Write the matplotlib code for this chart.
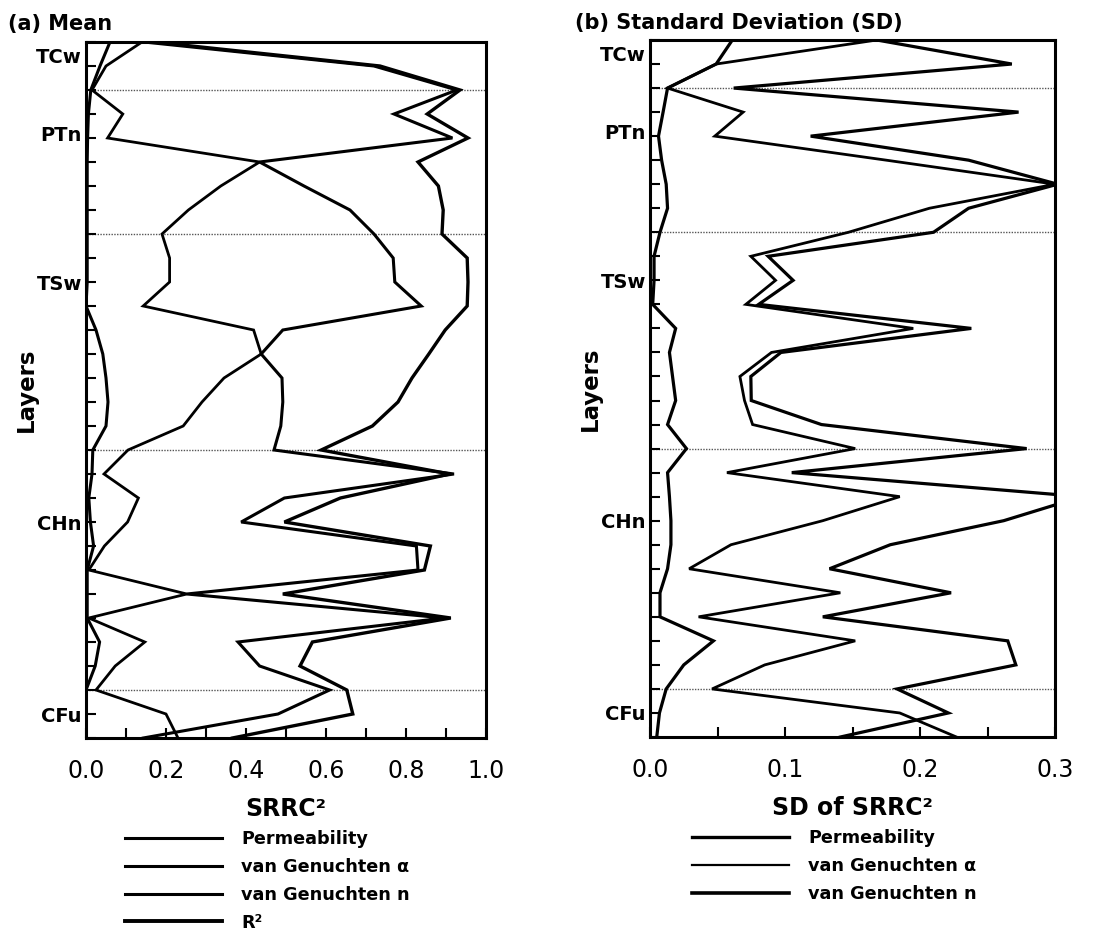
"""Mean and SD of SRRC^2 per layer, two panels side by side."""

import matplotlib.pyplot as plt
import numpy as np
from matplotlib.lines import Line2D
from matplotlib.ticker import FixedLocator, MultipleLocator

# layer number, top (1) to bottom (30)
layers = np.arange(1, 31)
unit_names = ["TCw", "PTn", "TSw", "CHn", "CFu"]
unit_label_pos = [1.55, 4.8, 11, 21, 29]
unit_bounds = [3, 9, 18, 28]

# (a) mean SRRC^2
mean_perm = [0.145, 0.72, 0.927, 0.77, 0.916, 0.434, 0.545, 0.66, 0.72, 0.768,
             0.772, 0.838, 0.492, 0.438, 0.49, 0.492, 0.487, 0.47, 0.92, 0.496,
             0.388, 0.826, 0.83, 0.252, 0.896, 0.38, 0.434, 0.609, 0.48, 0.143]
mean_alpha = [0.14, 0.05, 0.015, 0.092, 0.054, 0.434, 0.337, 0.256, 0.19, 0.209,
              0.209, 0.143, 0.419, 0.438, 0.345, 0.29, 0.243, 0.105, 0.045, 0.131,
              0.104, 0.046, 0.007, 0.252, 0.007, 0.147, 0.073, 0.025, 0.2, 0.23]
mean_n = [0.06, 0.035, 0.012, 0.006, 0.004, 0.003, 0.003, 0.003, 0.003, 0.003,
          0.003, 0.0, 0.025, 0.042, 0.05, 0.055, 0.05, 0.017, 0.015, 0.007,
          0.011, 0.019, 0.003, 0.003, 0.003, 0.034, 0.023, 0.0, 0.0, 0.0]
mean_r2 = [0.17, 0.735, 0.935, 0.853, 0.955, 0.83, 0.881, 0.893, 0.89, 0.953,
           0.955, 0.953, 0.898, 0.857, 0.815, 0.78, 0.716, 0.588, 0.91, 0.636,
           0.496, 0.861, 0.846, 0.492, 0.912, 0.566, 0.535, 0.652, 0.667, 0.366]

# (b) standard deviation of SRRC^2
sd_perm = [0.168, 0.268, 0.062, 0.273, 0.119, 0.236, 0.302, 0.236, 0.21, 0.0875,
           0.106, 0.0805, 0.238, 0.097, 0.0747, 0.075, 0.127, 0.279, 0.105, 0.32,
           0.262, 0.178, 0.133, 0.223, 0.128, 0.265, 0.271, 0.183, 0.221, 0.141]
sd_alpha = [0.168, 0.049, 0.013, 0.069, 0.048, 0.175, 0.3, 0.207, 0.147, 0.0747,
            0.093, 0.071, 0.195, 0.09, 0.0666, 0.07, 0.076, 0.152, 0.057, 0.185,
            0.128, 0.06, 0.029, 0.141, 0.036, 0.152, 0.085, 0.046, 0.185, 0.227]
sd_n = [0.061, 0.049, 0.013, 0.0097, 0.0063, 0.0086, 0.012, 0.013, 0.0074, 0.003,
        0.003, 0.002, 0.019, 0.0144, 0.0167, 0.019, 0.013, 0.027, 0.013, 0.0144,
        0.0155, 0.0155, 0.013, 0.0074, 0.0074, 0.047, 0.025, 0.012, 0.007, 0.005]

W, H = 1114, 934
fig = plt.figure(figsize=(W / 100, H / 100), dpi=100)
ax1 = fig.add_axes([86 / W, 1 - 738 / H, 400 / W, 696 / H])
ax2 = fig.add_axes([650 / W, 1 - 737 / H, 405 / W, 697 / H])


def style_axis(ax, xmax, major, minor):
    ax.set_xlim(0, xmax)
    ax.set_ylim(30, 1)
    for s in ax.spines.values():
        s.set_linewidth(2.2)
    ax.yaxis.remove_overlapping_locs = False
    ax.set_yticks(unit_label_pos)
    ax.set_yticklabels(unit_names, fontsize=14, fontweight="bold")
    ax.yaxis.set_minor_locator(FixedLocator(layers))
    ax.tick_params(axis="y", which="major", length=0, pad=3)
    ax.tick_params(axis="y", which="minor", direction="in", length=7, width=1.5)
    ax.xaxis.set_major_locator(MultipleLocator(major))
    ax.xaxis.set_minor_locator(MultipleLocator(minor))
    ax.xaxis.set_major_formatter("{x:.1f}")
    ax.tick_params(axis="x", which="both", direction="in", length=7, width=1.5,
                   labelsize=17, pad=15)
    for b in unit_bounds:
        ax.axhline(b, color="#555555", lw=1.0, ls=(0, (1, 1)), zorder=1)


style_axis(ax1, 1.0, 0.2, 0.1)
style_axis(ax2, 0.3, 0.1, 0.05)

kw = dict(color="black", solid_joinstyle="miter", zorder=3)

# Mean
ax1.plot(mean_perm, layers, lw=2.2, **kw)
ax1.plot(mean_alpha, layers, lw=2.0, **kw)
ax1.plot(mean_n, layers, lw=2.2, **kw)
ax1.plot(mean_r2, layers, lw=2.4, **kw)

# SD
ax2.plot(sd_perm, layers, lw=2.3, **kw)
ax2.plot(sd_alpha, layers, lw=2.0, **kw)
ax2.plot(sd_n, layers, lw=2.3, **kw)

for ax, xlabel, lx in [(ax1, "SRRC²", -0.12), (ax2, "SD of SRRC²", -0.118)]:
    ax.set_xlabel(xlabel, fontsize=17, fontweight="bold")
    ax.xaxis.set_label_coords(0.5, -0.085)
    ax.set_ylabel("Layers", fontsize=16.5, fontweight="bold")
    ax.yaxis.set_label_coords(lx, 0.5)

fig.text(8 / W, 1 - 24 / H, "(a) Mean", fontsize=15, fontweight="bold",
         ha="left", va="center")
fig.text(575 / W, 1 - 23 / H, "(b) Standard Deviation (SD)", fontsize=15,
         fontweight="bold", ha="left", va="center")

# Legends
leg_kw = dict(loc="upper left", bbox_transform=fig.transFigure, frameon=False,
              handlelength=5.5, handletextpad=1.1, labelspacing=0.56,
              borderpad=0, borderaxespad=0,
              prop={"weight": "bold", "size": 12.7})

h1 = [Line2D([0], [0], color="black", lw=w) for w in (2.2, 2.2, 2.2, 2.8)]
ax1.legend(h1, ["Permeability", "van Genuchten α", "van Genuchten n", "R²"],
           bbox_to_anchor=(125 / W, 1 - 830 / H), **leg_kw)

h2 = [Line2D([0], [0], color="black", lw=w) for w in (2.4, 1.6, 2.6)]
ax2.legend(h2, ["Permeability", "van Genuchten α", "van Genuchten n"],
           bbox_to_anchor=(692 / W, 1 - 829 / H), **leg_kw)

fig.savefig("out.png", dpi=100)
